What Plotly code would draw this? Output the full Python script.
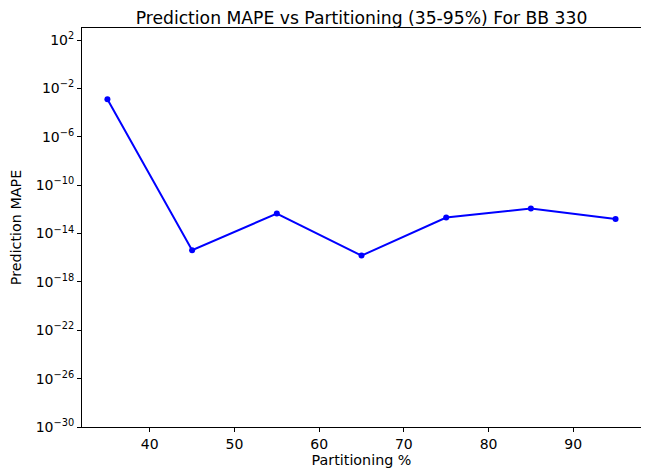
import plotly.graph_objects as go

partitions = [35, 45, 55, 65, 75, 85, 95]
mape = [1.26e-3, 4.2e-16, 4.5e-13, 1.5e-16, 2.1e-13, 1.2e-12, 1.6e-13]
x_ticks = [40, 50, 60, 70, 80, 90]
y_exps = [-30, -26, -22, -18, -14, -10, -6, -2, 2]

fig = go.Figure()
fig.add_trace(go.Scatter(
    x=partitions, y=mape, mode="lines+markers",
    line=dict(color="#0000ff", width=2),
    marker=dict(color="#0000ff", size=6),
))

font = "DejaVu Sans, sans-serif"
W, H = 641, 467
fig.update_layout(
    width=W, height=H,
    margin=dict(l=74, r=8, t=20, b=48, autoexpand=False),
    paper_bgcolor="white", plot_bgcolor="white",
    showlegend=False,
    font=dict(family=font, size=13, color="black"),
    title=dict(text="Prediction MAPE vs Partitioning (35-95%) For BB 330",
               x=353.5 / W, xanchor="center", xref="container",
               y=1 - 9.5 / H, yanchor="middle", yref="container",
               font=dict(size=17.2, family=font, color="black")),
    xaxis=dict(
        range=[32, 98], tickvals=x_ticks, ticktext=[str(v) for v in x_ticks],
        automargin=False, tickfont=dict(size=14, color="black"),
        showline=True, linecolor="black", linewidth=1, mirror=True,
        ticks="outside", ticklen=4, tickcolor="black", showgrid=False, zeroline=False,
        title=dict(text="Partitioning %", font=dict(size=14.3, color="black"), standoff=1),
    ),
    yaxis=dict(
        type="log", range=[-30, 3],
        tickvals=[10.0 ** e for e in y_exps],
        ticktext=["10<sup>\u2212%d</sup>" % (-e) if e < 0 else "10<sup>%d</sup>" % e for e in y_exps],
        automargin=False, tickfont=dict(size=14, color="black"),
        showline=True, linecolor="black", linewidth=1, mirror=True,
        ticks="outside", ticklen=4, tickcolor="black", showgrid=False, zeroline=False,
        title=dict(text="Prediction MAPE", font=dict(size=14.3, color="black"), standoff=14),
    ),
)

fig.write_html("out.html")
